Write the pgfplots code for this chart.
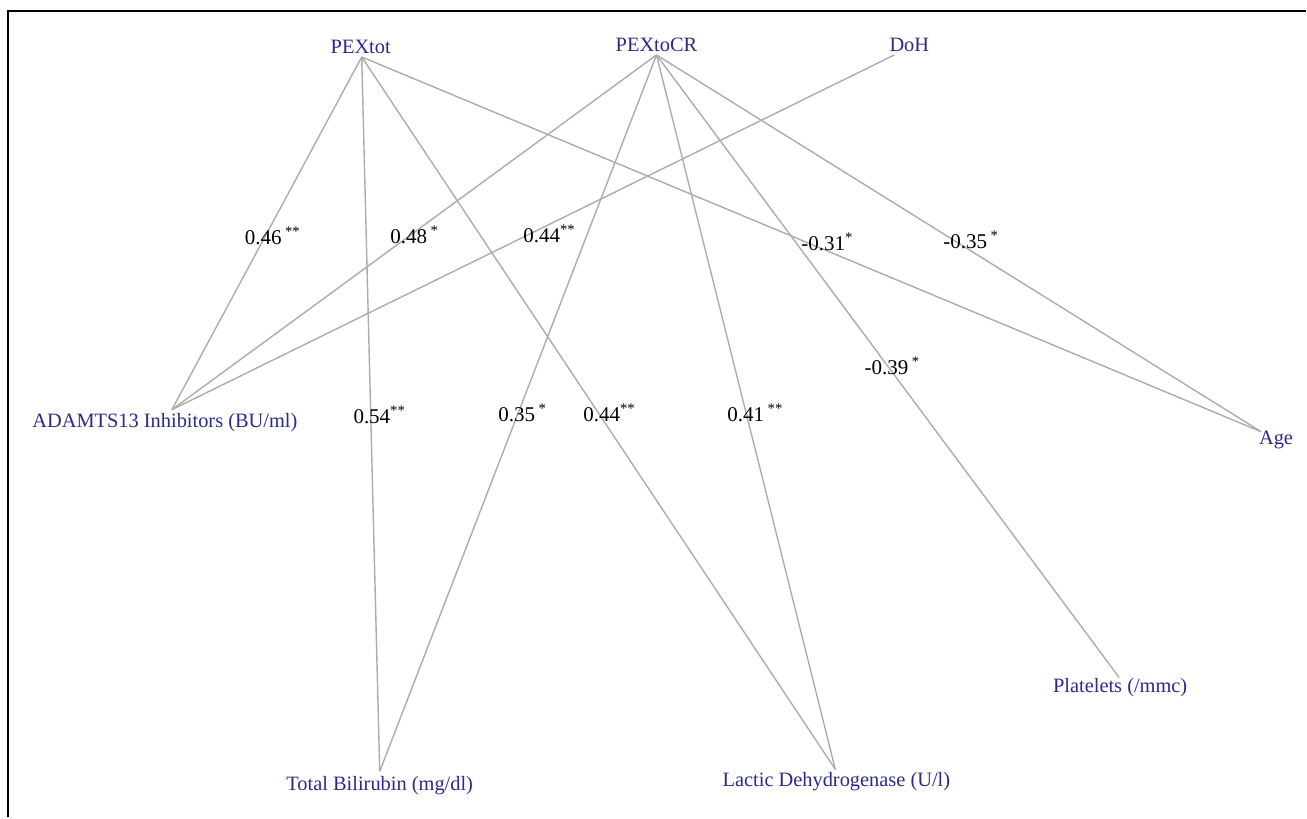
\documentclass[border=0pt]{standalone}
\usepackage{pgfplots}
\pgfplotsset{compat=1.18}
\usepackage{fontspec}
\setmainfont{Liberation Serif}
\definecolor{edgegray}{RGB}{172,172,172}
\definecolor{navy}{RGB}{42,42,140}
\begin{document}
\begin{tikzpicture}
\begin{axis}[
  scale only axis, width=653.5pt, height=409pt,
  xmin=0, xmax=1307, ymin=0, ymax=818, y dir=reverse,
  hide axis, clip=false,
  edge/.style={edgegray, line width=0.7pt, mark=none, solid},
]
\path (rel axis cs:0,0) rectangle (rel axis cs:1,1);
% frame (top and left edges)
\addplot[black, line width=1pt, mark=none, solid] coordinates {(8,818) (8,11) (1307,11)};
% edges
\addplot[edge] coordinates {(362,57) (172,410)};   % PEXtot - ADAMTS13
\addplot[edge] coordinates {(362,57) (380,772)};   % PEXtot - Bilirubin
\addplot[edge] coordinates {(362,57) (836,770)};   % PEXtot - LDH
\addplot[edge] coordinates {(362,57) (1262,432)};  % PEXtot - Age
\addplot[edge] coordinates {(657,55) (172,410)};   % PEXtoCR - ADAMTS13
\addplot[edge] coordinates {(657,55) (380,772)};   % PEXtoCR - Bilirubin
\addplot[edge] coordinates {(657,55) (836,770)};   % PEXtoCR - LDH
\addplot[edge] coordinates {(657,55) (1120,678)};  % PEXtoCR - Platelets
\addplot[edge] coordinates {(657,55) (1262,432)};  % PEXtoCR - Age
\addplot[edge] coordinates {(895,55) (172,410)};   % DoH - ADAMTS13
% node labels
\begin{scope}[every node/.style={text=navy, font=\fontsize{10.2}{12}\selectfont, inner sep=0pt}]
\node at (axis cs:361,47) {PEXtot};
\node at (axis cs:657,45) {PEXtoCR};
\node at (axis cs:910,45) {DoH};
\node at (axis cs:165,423) {ADAMTS13 Inhibitors (BU/ml)};
\node at (axis cs:380,786) {Total Bilirubin (mg/dl)};
\node at (axis cs:837,782) {Lactic Dehydrogenase (U/l)};
\node at (axis cs:1121,688) {Platelets (/mmc)};
\node at (axis cs:1277,440) {Age};
\end{scope}
% edge labels
\begin{scope}[every node/.style={text=black, font=\fontsize{10.5}{12}\selectfont, inner sep=0pt}]
\node at (axis cs:273,236) {0.46\,\textsuperscript{**}};
\node at (axis cs:415,235) {0.48\,\textsuperscript{*}};
\node at (axis cs:550,234) {0.44\textsuperscript{**}};
\node at (axis cs:828,242) {-0.31\textsuperscript{*}};
\node at (axis cs:972,240) {-0.35\,\textsuperscript{*}};
\node at (axis cs:893,366) {-0.39\,\textsuperscript{*}};
\node at (axis cs:380,415) {0.54\textsuperscript{**}};
\node at (axis cs:523,413) {0.35\,\textsuperscript{*}};
\node at (axis cs:610,413) {0.44\textsuperscript{**}};
\node at (axis cs:756,413) {0.41\,\textsuperscript{**}};
\end{scope}
\end{axis}
\end{tikzpicture}
\end{document}
